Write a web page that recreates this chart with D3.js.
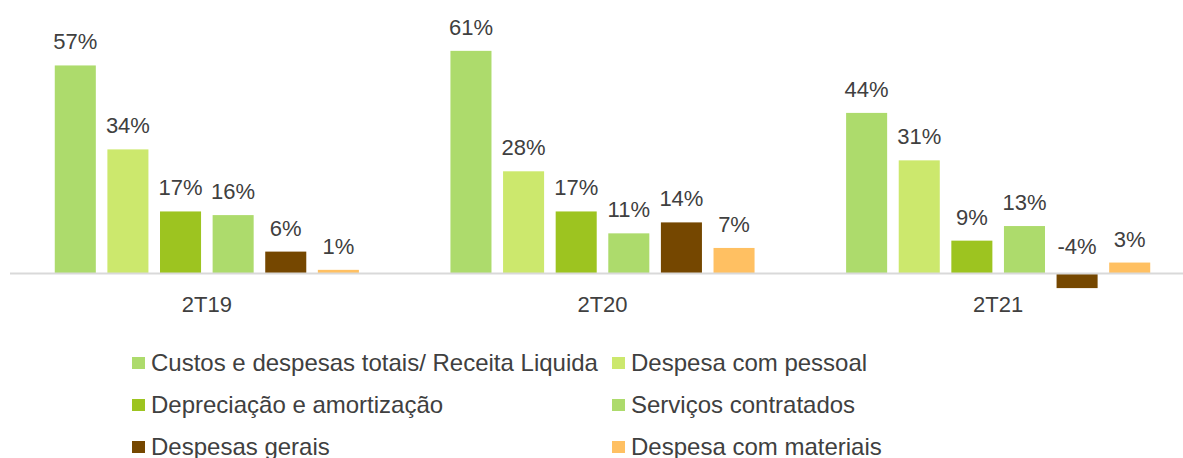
<!DOCTYPE html>
<html>
<head>
<meta charset="utf-8">
<script src="https://cdn.jsdelivr.net/npm/d3@7"></script>
<style>
    body { margin: 0; background: #fff; }
    svg text { font-family: "Liberation Sans", Arial, sans-serif; fill: #404040; }
</style>
</head>
<body>
<svg id="chart" width="1183" height="458"></svg>
<script>
// Chart data
const categories = ['2T19', '2T20', '2T21'];
const seriesNames = [
    'Custos e despesas totais/ Receita Liquida',
    'Despesa com pessoal',
    'Depreciação e amortização',
    'Serviços contratados',
    'Despesas gerais',
    'Despesa com materiais'
];
const seriesColors = ['#addb6c', '#cce86d', '#9dc420', '#addb6c', '#754700', '#ffc062'];
const custosTotais = [57, 61, 44];
const despesaPessoal = [34, 28, 31];
const depreciacao = [17, 17, 9];
const servicos = [16, 11, 13];
const despesasGerais = [6, 14, -4];
const materiais = [1, 7, 3];

const seriesValues = [custosTotais, despesaPessoal, depreciacao, servicos, despesasGerais, materiais];

const svg = d3.select('#chart');

const x0 = d3.scaleBand()
    .domain(categories)
    .range([9, 1196]);

const x1 = d3.scaleBand()
    .domain(d3.range(seriesNames.length))
    .range([0, x0.bandwidth()])
    .paddingInner(0.22)
    .paddingOuter(0.87);

const y = d3.scaleLinear()
    .domain([0, 60])
    .range([273.5, 54.5]);

// Bars + value labels
categories.forEach((cat, ci) => {
    const g = svg.append('g').attr('transform', `translate(${x0(cat)},0)`);
    seriesValues.forEach((vals, si) => {
        const v = vals[ci];
        g.append('rect')
            .attr('x', x1(si))
            .attr('y', Math.min(y(v), y(0)))
            .attr('width', x1.bandwidth())
            .attr('height', Math.abs(y(v) - y(0)))
            .attr('fill', seriesColors[si]);
        g.append('text')
            .attr('x', x1(si) + x1.bandwidth() / 2)
            .attr('y', v >= 0 ? y(v) - 16 : y(0) - 20)
            .attr('text-anchor', 'middle')
            .attr('font-size', 22)
            .text(v + '%');
    });
});

// Category axis
const axis = svg.append('g')
    .attr('transform', `translate(0,${y(0)})`)
    .call(d3.axisBottom(x0).tickSize(0).tickPadding(23));
axis.select('.domain').attr('stroke', '#d9d9d9').attr('stroke-width', 2).attr('d', 'M10,0H1183');
axis.selectAll('.tick text')
    .attr('font-size', 22)
    .attr('fill', '#404040')
    .attr('font-family', '"Liberation Sans", Arial, sans-serif');

// Legend
const legendPos = [
    [132, 363], [612, 363],
    [132, 405], [612, 405],
    [132, 447], [612, 447]
];
seriesNames.forEach((name, i) => {
    const [lx, ly] = legendPos[i];
    svg.append('rect')
        .attr('x', lx)
        .attr('y', ly - 6)
        .attr('width', 13)
        .attr('height', 12)
        .attr('fill', seriesColors[i]);
    svg.append('text')
        .attr('x', lx + 19)
        .attr('y', ly + 8)
        .attr('font-size', 24)
        .text(name);
});
</script>
</body>
</html>
